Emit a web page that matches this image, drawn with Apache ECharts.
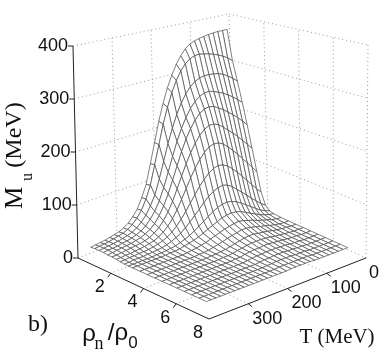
<!DOCTYPE html>
<html><head><meta charset="utf-8">
<style>html,body{margin:0;padding:0;background:#fff}#c{width:382px;height:354px}</style>
<script src="https://cdn.jsdelivr.net/npm/echarts@6/dist/echarts.min.js"></script>
</head><body><div id="c"></div><script>
const tempGrid=[28,40,52,64,76,88,100,112,124,136,148,160,172,184,196,208,220,232,244,256,268,280,292,304,316,328,340,352,364,376,388];
const rhoGrid=[0.5,0.76,1.02,1.28,1.54,1.8,2.06,2.3,2.55,2.8,3.05,3.5,3.95,4.4,4.85,5.3,5.75,6.2,6.65,7.1,7.55];
const m00=[376,376,376,375,374,372,370,367,363,355,343,328,308,285,256,223,183,144,106,83,64,52,43,37,33,31,29,27,26,25,24];
const m01=[312,320,326,331,335,338,340,342,341,337,329,317,300,278,251,220,182,145,108,84,65,53,44,38,34,32,30,28,27,26,25];
const m02=[271,280,287,293,297,299,300,300,298,293,285,273,257,237,212,184,152,120,92,74,59,49,41,36,33,31,29,28,27,26,25];
const m03=[229,238,246,253,259,264,268,271,270,266,258,247,231,212,189,162,134,107,84,67,55,45,39,35,32,30,29,27,26,26,25];
const m04=[185,196,206,215,223,231,237,243,245,243,237,226,212,194,172,147,122,98,78,62,50,42,37,33,31,29,28,27,26,25,24];
const m05=[139,151,162,173,183,192,201,209,213,213,208,199,186,170,151,130,108,87,70,56,46,39,34,31,29,28,27,26,25,24,24];
const m06=[94,107,119,131,143,154,164,173,178,179,176,168,157,143,127,109,91,74,60,49,41,35,31,29,27,26,25,24,24,23,23];
const m07=[55,66,78,90,102,113,123,132,137,139,136,130,121,110,97,84,71,59,49,41,35,31,28,26,25,24,24,23,23,22,22];
const m08=[32,39,48,57,67,76,85,94,100,103,101,97,90,82,72,63,54,46,39,34,30,27,25,24,23,23,22,22,22,21,21];
const m09=[24,28,33,40,47,54,61,67,71,73,72,69,64,58,52,46,40,35,31,28,25,24,23,22,22,21,21,21,21,21,21];
const m10=[22,24,27,31,36,41,46,51,54,55,54,52,48,44,40,36,32,29,27,25,23,22,22,21,21,21,21,21,21,21,21];
const m11=[21,22,24,27,30,33,37,40,43,45,44,42,40,37,34,31,28,26,24,23,22,21,21,21,21,21,21,21,21,21,21];
const m12=[21,21,22,24,26,29,31,34,36,38,38,36,34,32,29,27,25,23,22,22,21,21,21,21,21,21,21,21,21,21,21];
const m13=[21,21,22,23,24,26,28,30,31,33,33,32,30,28,26,24,23,22,22,21,21,21,21,21,21,21,21,21,21,21,21];
const m14=[21,21,21,22,23,24,25,27,28,29,29,29,28,26,25,23,22,22,21,21,21,21,21,21,21,21,21,21,21,21,21];
const m15=[21,21,21,22,22,23,24,25,26,27,27,26,26,25,24,22,22,21,21,21,21,21,21,21,21,21,21,21,21,21,21];
const m16=[21,21,21,21,22,22,23,24,24,25,25,25,24,24,23,22,21,21,21,21,21,21,21,21,21,21,21,21,21,21,21];
const m17=[21,21,21,21,21,22,22,23,23,24,24,24,23,23,22,21,21,21,21,21,21,21,21,21,21,21,21,21,21,21,21];
const m18=[21,21,21,21,21,21,22,22,22,23,23,23,23,22,22,21,21,21,21,21,21,21,21,21,21,21,21,21,21,21,21];
const m19=[21,21,21,21,21,21,21,22,22,22,22,22,22,22,21,21,21,21,21,21,21,21,21,21,21,21,21,21,21,21,21];
const m20=[21,21,21,21,21,21,21,21,22,22,22,22,22,21,21,21,21,21,21,21,21,21,21,21,21,21,21,21,21,21,21];
const massRows=[m00,m01,m02,m03,m04,m05,m06,m07,m08,m09,m10,m11,m12,m13,m14,m15,m16,m17,m18,m19,m20];
const rhoTicks=[2,4,6,8];
const tempTicks=[0,100,200,300];
const massTicks=[0,100,200,300,400];

// box of the 3D scene, as seen on the page
const RHO_MAX=8,T_MAX=400,M_MAX=400;
const box={
  bottom:{back:[235,197],left:[78,258],right:[366,258],front:[209,319]},
  top:{back:[229,14],left:[73,46],right:[368,45],front:[212,85]}
};
function project(rho,T,m){
  const u=rho/RHO_MAX,v=T/T_MAX,w=m/M_MAX;
  const bil=(f,k)=>(1-u)*(1-v)*f.back[k]+(1-u)*v*f.left[k]+u*(1-v)*f.right[k]+u*v*f.front[k];
  return [0,1].map(k=>bil(box.bottom,k)*(1-w)+bil(box.top,k)*w);
}
// frame segments: [rho0,T0,m0,rho1,T1,m1,kind]  kind 0 dotted, 1 solid
const seg=[];
[0,100,200,300,400].forEach(m=>{ if(m>0){seg.push([0,T_MAX,m,0,0,m,0]);seg.push([0,0,m,RHO_MAX,0,m,0]);} });
[100,200,300].forEach(T=>{seg.push([0,T,0,0,T,M_MAX,0]);seg.push([0,T,0,RHO_MAX,T,0,0]);});
[2,4,6].forEach(r=>{seg.push([r,0,0,r,0,M_MAX,0]);seg.push([r,0,0,r,T_MAX,0,0]);});
seg.push([0,0,0,0,0,M_MAX,0],[RHO_MAX,0,0,RHO_MAX,0,M_MAX,0],[0,T_MAX,0,0,0,0,0],[0,0,0,RHO_MAX,0,0,0]);
seg.push([0,T_MAX,0,0,T_MAX,M_MAX,1],[0,T_MAX,0,RHO_MAX,T_MAX,0,1],[RHO_MAX,0,0,RHO_MAX,T_MAX,0,1]);

const cells=[];
for(let j=0;j<rhoGrid.length-1;j++)for(let i=0;i<tempGrid.length-1;i++)cells.push([j,i]);

const sans='"Liberation Sans",Arial,sans-serif',serif='"Liberation Serif","Times New Roman",serif';
const texts=[];
massTicks.forEach(m=>{const p=project(0,T_MAX,m);texts.push({t:String(m),x:p[0]-5,y:p[1]+0,a:'right',s:18,f:sans});});
rhoTicks.forEach(r=>{const p=project(r,T_MAX,0);texts.push({t:String(r),x:p[0]-11,y:p[1]+14,a:'center',s:18,f:sans});});
tempTicks.forEach(T=>{const p=project(RHO_MAX,T,0);texts.push({t:String(T),x:p[0]+(T?4:3),y:p[1]+15,a:'left',s:18,f:sans});});
texts.push({t:'M',x:15,y:198,a:'center',s:25,f:serif,r:1});
texts.push({t:'u',x:28,y:177,a:'center',s:16,f:serif,r:1});
texts.push({t:'(MeV)',x:15,y:135,a:'center',s:24,f:serif,r:1});
texts.push({t:'T (MeV)',x:337,y:337,a:'center',s:21,f:serif});
texts.push({t:'b)',x:38,y:325,a:'center',s:24,f:serif});
texts.push({t:'ρ',x:89,y:334,a:'center',s:24,f:sans});
texts.push({t:'n',x:99,y:344,a:'center',s:18,f:serif});
texts.push({t:'/ρ',x:118,y:333,a:'center',s:24,f:sans});
texts.push({t:'0',x:133,y:343,a:'center',s:17,f:sans});

const chart=echarts.init(document.getElementById('c'),null,{renderer:'canvas'});
chart.setOption({
  animation:false,
  backgroundColor:'#fff',
  grid:{left:0,right:0,top:0,bottom:0},
  xAxis:{type:'value',min:0,max:382,show:false},
  yAxis:{type:'value',min:0,max:354,inverse:true,show:false},
  series:[
   {type:'custom',coordinateSystem:'cartesian2d',silent:true,clip:false,z:1,
    data:seg,
    encode:{x:0,y:1},
    renderItem(params,api){
      const a=api.coord(project(api.value(0),api.value(1),api.value(2)));
      const b=api.coord(project(api.value(3),api.value(4),api.value(5)));
      const solid=api.value(6)===1;
      return {type:'line',shape:{x1:a[0],y1:a[1],x2:b[0],y2:b[1]},
        style:solid?{stroke:'#222',lineWidth:1}:{stroke:'#999',lineWidth:1,lineDash:[1,3]}};
    }},
   {type:'custom',coordinateSystem:'cartesian2d',silent:true,clip:false,z:1,
    data:massTicks.map(m=>[0,T_MAX,m,-5,0]).concat(
      rhoTicks.slice(0,3).map(r=>[r,T_MAX,0,-3,4]),
      tempTicks.slice(1).map(T=>[RHO_MAX,T,0,4,3])),
    encode:{x:0,y:1},
    renderItem(params,api){
      const a=api.coord(project(api.value(0),api.value(1),api.value(2)));
      return {type:'line',shape:{x1:a[0],y1:a[1],x2:a[0]+api.value(3),y2:a[1]+api.value(4)},
        style:{stroke:'#222',lineWidth:1}};
    }},
   {type:'custom',coordinateSystem:'cartesian2d',silent:true,clip:false,z:2,
    data:cells,
    encode:{x:0,y:1},
    renderItem(params,api){
      const j=api.value(0),i=api.value(1);
      const pt=(jj,ii)=>api.coord(project(rhoGrid[jj],tempGrid[ii],massRows[jj][ii]));
      return {type:'polygon',shape:{points:[pt(j,i),pt(j+1,i),pt(j+1,i+1),pt(j,i+1)]},
        style:{fill:'#fff',stroke:'#4a4a4a',lineWidth:0.7}};
    }},
   {type:'custom',coordinateSystem:'cartesian2d',silent:true,clip:false,z:3,
    data:texts.map((d,k)=>[k,0]),
    encode:{x:0,y:1},
    renderItem(params,api){
      const d=texts[api.value(0)];
      const c=api.coord([d.x,d.y]);
      return {type:'text',x:c[0],y:c[1],rotation:d.r?Math.PI/2:0,
        style:{text:d.t,fontSize:d.s,fontFamily:d.f,fill:'#111',align:d.a,verticalAlign:'middle'}};
    }}
  ]
});
</script></body></html>
